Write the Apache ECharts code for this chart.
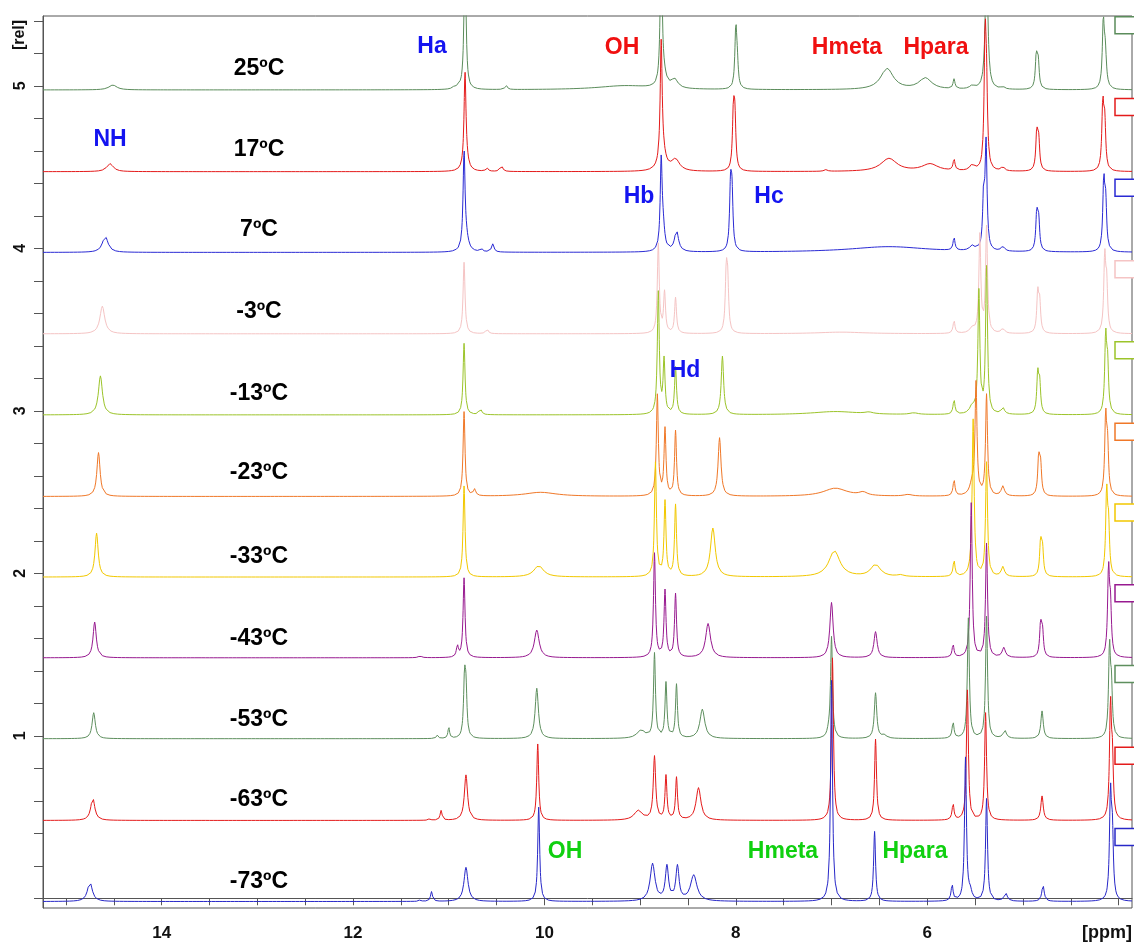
<!DOCTYPE html>
<html>
<head>
<meta charset="utf-8">
<script src="https://cdn.jsdelivr.net/npm/echarts@6/dist/echarts.min.js"></script>
<style>
html,body{margin:0;padding:0;background:#fff;}
#chart{width:1134px;height:945px;}
</style>
</head>
<body>
<div id="chart"></div>
<script>
// ---- data ----
const temps = ['25ºC','17ºC','7ºC','-3ºC','-13ºC','-23ºC','-33ºC','-43ºC','-53ºC','-63ºC','-73ºC'];
const offsets = [4.975,4.472,3.975,3.474,2.975,2.473,1.977,1.48,0.982,0.479,-0.02];
const colors = ['#5b8c5b','#e41b1b','#2a2ad4','#f5c4c4','#9cc42a','#f07828','#f2c800','#981a90','#5e8f5e','#e41b1b','#2828c8'];
// peaks: [ppm, height, half-width ppm (optional)]
const peaks25 = [[14.51,0.03,0.05],[10.95,0.01,0.02],[10.9,0.015,0.02],[10.83,0.9],[10.40,0.025,0.015],[9.16,0.025,0.35],[8.78,0.9],[8.75,0.06,0.03],[8.64,0.055,0.04],[8.0,0.36],[7.985,0.13],[6.42,0.13,0.08],[6.02,0.07,0.08],[5.72,0.06],[5.53,0.02,0.03],[5.38,0.9,0.015],[5.21,0.015,0.02],[4.86,0.2],[4.84,0.16],[4.16,0.38],[4.14,0.22,0.015]];
const peaks17 = [[14.54,0.05,0.04],[10.6,0.02,0.015],[10.45,0.04,0.015],[10.83,0.56],[10.82,0.06,0.03],[8.78,0.72],[8.765,0.1,0.04],[8.63,0.07,0.05],[8.025,0.34],[8.01,0.3],[7.06,0.01,0.02],[6.40,0.08,0.1],[5.97,0.045,0.1],[5.72,0.07],[5.53,0.035,0.03],[5.395,0.78],[5.38,0.42],[5.21,0.025,0.02],[4.855,0.23],[4.835,0.18],[4.165,0.4],[4.145,0.28]];
const peaks7 = [[14.59,0.1,0.035],[10.66,0.02,0.015],[10.54,0.05,0.015],[10.84,0.58],[10.82,0.08,0.03],[8.78,0.53],[8.76,0.13,0.02],[8.62,0.13,0.025],[8.055,0.37],[8.04,0.32],[6.4,0.035,0.5],[5.72,0.08],[5.53,0.03,0.03],[5.41,0.33],[5.385,0.64],[5.21,0.03,0.02],[4.855,0.23],[4.835,0.18],[4.155,0.42],[4.135,0.28]];
const peaksM3 = [[14.62,0.17,0.03],[10.84,0.44],[10.6,0.03,0.015],[8.81,0.55],[8.745,0.25],[8.63,0.22],[8.10,0.35],[8.085,0.28],[6.9,0.01,0.3],[5.72,0.08],[5.53,0.03,0.03],[5.45,0.6],[5.38,0.65],[5.21,0.03,0.02],[4.845,0.24],[4.825,0.18],[4.145,0.45],[4.125,0.28]];
const peaksM13 = [[14.64,0.24,0.025],[10.84,0.44],[10.67,0.04,0.015],[8.81,0.75],[8.75,0.33],[8.63,0.29],[8.14,0.36,0.015],[6.96,0.02,0.3],[6.61,0.01,0.05],[6.14,0.01,0.05],[5.72,0.09],[5.53,0.045,0.03],[5.46,0.75],[5.38,0.9],[5.21,0.04,0.02],[4.845,0.24],[4.825,0.18],[4.135,0.46],[4.115,0.28]];
const peaksM23 = [[14.66,0.27,0.02],[10.84,0.52],[10.73,0.04,0.015],[10.04,0.025,0.2],[8.82,0.62],[8.74,0.41],[8.63,0.4],[8.17,0.36,0.018],[6.96,0.05,0.15],[6.67,0.02,0.05],[6.2,0.01,0.05],[5.72,0.1],[5.53,0.07,0.03],[5.49,0.68],[5.38,0.62],[5.21,0.06,0.02],[4.835,0.23],[4.815,0.18],[4.135,0.47],[4.115,0.28]];
const peaksM33 = [[14.68,0.27,0.02],[10.84,0.56],[10.06,0.07,0.06],[8.84,0.7],[8.74,0.46],[8.63,0.44],[8.24,0.3,0.03],[6.97,0.16,0.07],[6.54,0.075,0.06],[6.28,0.01,0.04],[5.72,0.1],[5.53,0.03,0.03],[5.52,0.94],[5.38,0.7],[5.21,0.06,0.02],[4.815,0.21],[4.795,0.16],[4.125,0.5],[4.105,0.28]];
const peaksM43 = [[14.70,0.22,0.02],[11.3,0.01,0.02],[10.91,0.07,0.012],[10.84,0.49],[10.08,0.17,0.03],[8.85,0.64],[8.74,0.41],[8.63,0.39],[8.29,0.21,0.03],[7.0,0.34,0.02],[6.54,0.16,0.02],[5.73,0.08],[5.54,0.95],[5.38,0.7],[5.2,0.06,0.02],[4.815,0.2],[4.795,0.15],[4.105,0.52],[4.085,0.28]];
const peaksM53 = [[14.71,0.16,0.02],[11.12,0.02,0.012],[11.0,0.07,0.01],[10.835,0.34],[10.82,0.27],[10.08,0.31,0.02],[8.99,0.05,0.05],[8.85,0.52],[8.73,0.34],[8.62,0.33],[8.35,0.18,0.03],[7.03,0.03,0.02],[7.0,0.62],[6.54,0.28,0.015],[6.45,0.02,0.03],[5.73,0.1],[5.57,0.74],[5.38,0.75],[5.19,0.05,0.02],[4.8,0.17,0.015],[4.095,0.54],[4.075,0.28]];
const peaksM63 = [[14.72,0.14,0.025],[11.2,0.01,0.012],[11.08,0.06,0.012],[10.82,0.28,0.02],[10.07,0.47],[9.02,0.06,0.05],[8.85,0.39,0.015],[8.73,0.27],[8.62,0.26],[8.39,0.2,0.03],[6.99,1.0],[6.54,0.5],[5.73,0.1],[5.58,0.8],[5.39,0.66],[4.8,0.15,0.015],[4.085,0.68],[4.065,0.33]];
const peaksM73 = [[14.75,0.12,0.03],[11.3,0.01,0.012],[11.18,0.06,0.012],[10.82,0.21,0.025],[10.06,0.58],[8.87,0.23,0.03],[8.72,0.21,0.02],[8.61,0.21,0.02],[8.44,0.16,0.04],[7.0,1.36],[6.55,0.43],[5.74,0.1],[5.6,0.88],[5.55,0.05,0.02],[5.38,0.63],[5.18,0.05,0.02],[4.79,0.1,0.015],[4.085,0.63],[4.065,0.38]];
const allPeaks = [peaks25,peaks17,peaks7,peaksM3,peaksM13,peaksM23,peaksM33,peaksM43,peaksM53,peaksM63,peaksM73];
const xTicks = [4,4.5,5,5.5,6,6.5,7,7.5,8,8.5,9,9.5,10,10.5,11,11.5,12,12.5,13,13.5,14,14.5,15];
const xLabels = [6,8,10,12,14];
const yTicks = [0,0.2,0.4,0.6,0.8,1,1.2,1.4,1.6,1.8,2,2.2,2.4,2.6,2.8,3,3.2,3.4,3.6,3.8,4,4.2,4.4,4.6,4.8,5,5.2,5.4];
const yLabels = [1,2,3,4,5];
const annotations = [
  {t:'NH',x:110,y:140,c:'#1414f0'},{t:'Ha',x:432,y:47,c:'#1414f0'},{t:'OH',x:622,y:48,c:'#f01010'},
  {t:'Hmeta',x:847,y:48,c:'#f01010'},{t:'Hpara',x:936,y:48,c:'#f01010'},
  {t:'Hb',x:639,y:197,c:'#1414f0'},{t:'Hc',x:769,y:197,c:'#1414f0'},{t:'Hd',x:685,y:371,c:'#1414f0'},
  {t:'OH',x:565,y:852,c:'#10d010'},{t:'Hmeta',x:783,y:852,c:'#10d010'},{t:'Hpara',x:915,y:852,c:'#10d010'}
];
const labelY = [69,150,230,312,394,473,557,639,720,800,882];

// ---- build spectra ----
const X_MIN = 3.86, X_MAX = 15.24;
function buildSeries(peaks, off){
  const xs = [];
  for (let x = X_MIN; x <= X_MAX + 1e-9; x += 0.02) xs.push(+x.toFixed(4));
  const ks = [-10,-5,-3,-2,-1.5,-1,-0.6,-0.3,0,0.3,0.6,1,1.5,2,3,5,10];
  peaks.forEach(p => { const w = p[2] || 0.012; ks.forEach(k => xs.push(p[0] + k*w)); });
  xs.sort((a,b)=>a-b);
  return xs.filter(x => x >= X_MIN && x <= X_MAX).map(x => {
    let y = off;
    peaks.forEach(p => { const w = p[2] || 0.012; const d = (x - p[0]) / w; y += p[1] / (1 + d*d); });
    return [x, y];
  });
}

const chart = echarts.init(document.getElementById('chart'));
const FONT = 'Liberation Sans, Arial, sans-serif';
const series = allPeaks.map((pk, i) => ({
  type: 'line', name: temps[i], data: buildSeries(pk, offsets[i]),
  showSymbol: false, symbol: 'none', clip: true, z: 2 + i,
  lineStyle: { color: colors[i], width: 1 }, silent: true
}));

const graphics = [];
temps.forEach((t, i) => graphics.push({type:'text', x: 259, y: labelY[i], z: 50,
  style:{text: t, fill:'#000', font:'bold 23px ' + FONT, textAlign:'center', textVerticalAlign:'middle'}}));
annotations.forEach(a => graphics.push({type:'text', x: a.x, y: a.y, z: 50,
  style:{text: a.t, fill: a.c, font:'bold 23px ' + FONT, textAlign:'center', textVerticalAlign:'middle'}}));
graphics.push({type:'text', x: 1107, y: 933, style:{text:'[ppm]', fill:'#111', font:'bold 18px ' + FONT, textAlign:'center', textVerticalAlign:'middle'}});
graphics.push({type:'text', x: 20, y: 35, rotation: Math.PI/2, style:{text:'[rel]', fill:'#111', font:'bold 16px ' + FONT, textAlign:'center', textVerticalAlign:'middle'}});

chart.setOption({
  animation: false,
  backgroundColor: '#fff',
  grid: { left: 43, right: 2, top: 16, bottom: 37, show: true, borderColor: '#555', borderWidth: 1 },
  xAxis: { type: 'value', inverse: true, min: X_MIN, max: X_MAX,
    axisLine: { show: true, lineStyle: { color: '#555' } },
    axisTick: { show: true, length: 7, customValues: xTicks, lineStyle: { color: '#555' } },
    axisLabel: { customValues: xLabels, color: '#111', fontWeight: 'bold', fontSize: 17, fontFamily: FONT, margin: 17 },
    splitLine: { show: false } },
  yAxis: { type: 'value', min: -0.06, max: 5.43,
    axisLine: { show: true, lineStyle: { color: '#555' } },
    axisTick: { show: true, length: 9, customValues: yTicks, lineStyle: { color: '#555' } },
    axisLabel: { customValues: yLabels, rotate: 90, color: '#111', fontWeight: 'bold', fontSize: 16, fontFamily: FONT, margin: 14 },
    splitLine: { show: false } },
  series: series,
  graphic: graphics
});

// small open boxes at the right edge, one per spectrum, tied to the y scale
const boxes = offsets.map((o, i) => {
  const p = chart.convertToPixel({gridIndex:0}, [X_MIN, o + 0.45]);
  return {type:'rect', shape:{x:1115, y:p[1], width:30, height:17}, z: 60,
    style:{fill:'#fff', stroke: colors[i], lineWidth: 1.5}};
});
chart.setOption({ graphic: graphics.concat(boxes) });
</script>
</body>
</html>
